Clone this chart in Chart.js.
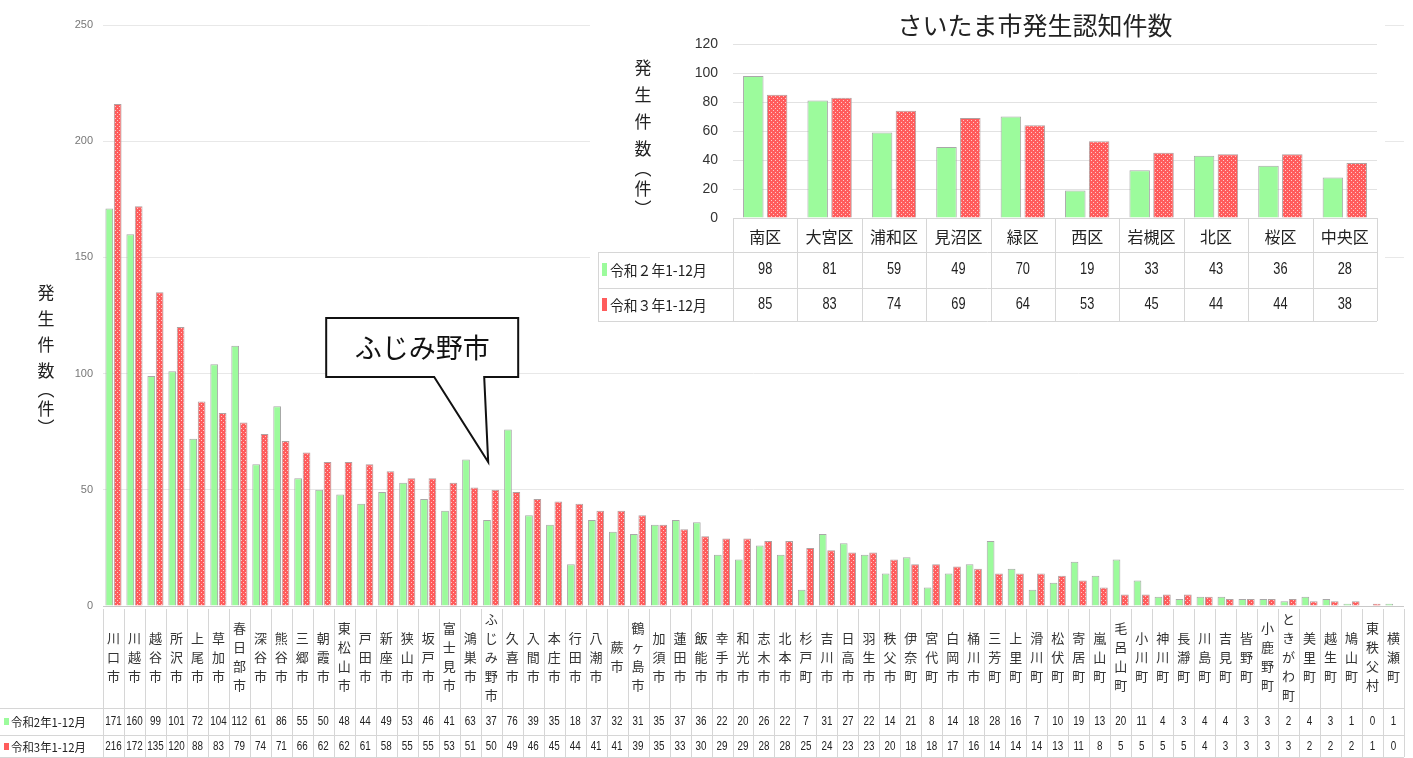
<!DOCTYPE html>
<html>
<head>
<meta charset="utf-8">
<script src="https://cdn.jsdelivr.net/npm/chart.js@4.4.0/dist/chart.umd.min.js"></script>
<style>
html, body { margin: 0; padding: 0; background: #fff; }
#wrap { position: relative; width: 1413px; height: 758px; overflow: hidden; }
#main { position: absolute; left: 0; top: 0; }
#inset { position: absolute; left: 590px; top: 0; background: #fff; }
</style>
</head>
<body>
<div id="wrap">
  <canvas id="main" width="1413" height="758"></canvas>
  <canvas id="inset" width="795" height="330"></canvas>
</div>
<script>
// 埼玉県 市町村別 発生認知件数
const cities = ['川口市','川越市','越谷市','所沢市','上尾市','草加市','春日部市','深谷市','熊谷市','三郷市',
  '朝霞市','東松山市','戸田市','新座市','狭山市','坂戸市','富士見市','鴻巣市','ふじみ野市','久喜市',
  '入間市','本庄市','行田市','八潮市','蕨市','鶴ヶ島市','加須市','蓮田市','飯能市','幸手市',
  '和光市','志木市','北本市','杉戸町','吉川市','日高市','羽生市','秩父市','伊奈町','宮代町',
  '白岡市','桶川市','三芳町','上里町','滑川町','松伏町','寄居町','嵐山町','毛呂山町','小川町',
  '神川町','長瀞町','川島町','吉見町','皆野町','小鹿野町','ときがわ町','美里町','越生町','鳩山町',
  '東秩父村','横瀬町'];
const cityR2 = [171,160,99,101,72,104,112,61,86,55, 50,48,44,49,53,46,41,63,37,76,
  39,35,18,37,32,31,35,37,36,22, 20,26,22,7,31,27,22,14,21,8,
  14,18,28,16,7,10,19,13,20,11, 4,3,4,4,3,3,2,4,3,1, 0,1];
const cityR3 = [216,172,135,120,88,83,79,74,71,66, 62,62,61,58,55,55,53,51,50,49,
  46,45,44,41,41,39,35,33,30,29, 29,28,28,25,24,23,23,20,18,18,
  17,16,14,14,14,13,11,8,5,5, 5,5,4,3,3,3,3,2,2,2, 1,0];

// さいたま市 区別
const wards = ['南区','大宮区','浦和区','見沼区','緑区','西区','岩槻区','北区','桜区','中央区'];
const wardR2 = [98,81,59,49,70,19,33,43,36,28];
const wardR3 = [85,83,74,69,64,53,45,44,44,38];

const mainLabels = ['令和2年1-12月', '令和3年1-12月'];
const insetLabels = ['令和２年1-12月', '令和３年1-12月'];
const yTitleChars = ['発','生','件','数','︵','件','︶'];
const calloutText = 'ふじみ野市';
const calloutIndex = cities.indexOf(calloutText);

const GREEN = '#9cfb9c';
const RED = '#ff5c5c';
const JP = '"Noto Sans CJK JP", "Noto Sans", sans-serif';
Chart.defaults.font.family = JP;

function dotted() {
  const c = document.createElement('canvas');
  c.width = 4; c.height = 4;
  const g = c.getContext('2d');
  g.fillStyle = RED; g.fillRect(0, 0, 4, 4);
  g.fillStyle = '#ffc8c8';
  g.fillRect(1, 0, 1, 1); g.fillRect(3, 2, 1, 1);
  return g.createPattern(c, 'repeat');
}

function stackedTitle(ctx, cx, top, size, step, parenStep) {
  ctx.save();
  ctx.fillStyle = '#222';
  ctx.font = size + 'px ' + JP;
  ctx.textAlign = 'center';
  ctx.textBaseline = 'middle';
  let py = top;
  yTitleChars.forEach((ch, i) => {
    ctx.fillText(ch, cx, py);
    const small = ch === '︵' || yTitleChars[i + 1] === '︶' || yTitleChars[i + 1] === '︵';
    py += small ? parenStep : step;
  });
  ctx.restore();
}

function narrowText(ctx, txt, px, py, sx) {
  ctx.save();
  ctx.translate(px, py);
  ctx.scale(sx, 1);
  ctx.fillText(txt, 0, 0);
  ctx.restore();
}

// ---------- main chart ----------
const mainExtras = {
  id: 'mainExtras',
  afterDraw(chart) {
    const { ctx, chartArea: area, scales: { x, y } } = chart;
    const n = cities.length;
    const step = x.width / n;
    const rowTop = x.bottom, rowMid = x.bottom + 27, rowEnd = chart.height - 1;
    ctx.save();
    ctx.strokeStyle = '#d6d6d6';
    ctx.lineWidth = 1;
    ctx.beginPath();
    for (let i = 0; i <= n; i++) {
      const px = Math.round(x.left + i * step) + 0.5;
      ctx.moveTo(px, area.bottom + 3);
      ctx.lineTo(px, rowEnd);
    }
    [rowTop, rowMid, rowEnd].forEach(py => {
      ctx.moveTo(0, py + 0.5);
      ctx.lineTo(x.right, py + 0.5);
    });
    ctx.stroke();

    ctx.fillStyle = '#222';
    ctx.textAlign = 'center';
    ctx.textBaseline = 'middle';
    ctx.font = '12px "Liberation Sans", sans-serif';
    [[cityR2, rowTop + 14], [cityR3, rowMid + 12]].forEach(([vals, py]) => {
      vals.forEach((v, i) => narrowText(ctx, String(v), x.getPixelForValue(i), py, 0.82));
    });

    // legend keys in table
    ctx.textAlign = 'left';
    ctx.font = '12px ' + JP;
    [[GREEN, rowTop + 14], [RED, rowMid + 12]].forEach(([col, py], k) => {
      ctx.fillStyle = col;
      ctx.fillRect(4, py - 4, 5, 7);
      ctx.fillStyle = '#222';
      narrowText(ctx, mainLabels[k], 11, py, 0.95);
    });
    ctx.restore();

    stackedTitle(ctx, 46, 293, 17, 26, 19);

    // callout for ふじみ野市
    const tipX = x.getPixelForValue(calloutIndex) - 3;
    const tipY = y.getPixelForValue(62);
    const bx = tipX - 162, by = tipY - 144, bw = 192, bh = 59;
    ctx.save();
    ctx.lineWidth = 2;
    ctx.strokeStyle = '#111';
    ctx.fillStyle = '#fff';
    ctx.beginPath();
    ctx.moveTo(bx, by);
    ctx.lineTo(bx + bw, by);
    ctx.lineTo(bx + bw, by + bh);
    ctx.lineTo(bx + 158, by + bh);
    ctx.lineTo(tipX, tipY);
    ctx.lineTo(bx + 108, by + bh);
    ctx.lineTo(bx, by + bh);
    ctx.closePath();
    ctx.fill();
    ctx.stroke();
    ctx.fillStyle = '#111';
    ctx.font = '27px ' + JP;
    ctx.textAlign = 'center';
    ctx.textBaseline = 'middle';
    ctx.fillText(calloutText, bx + bw / 2, by + bh / 2);
    ctx.restore();
  }
};

new Chart(document.getElementById('main').getContext('2d'), {
  type: 'bar',
  data: {
    labels: cities.map(c => Array.from(c)),
    datasets: [
      { label: mainLabels[0], data: cityR2, backgroundColor: GREEN,
        borderColor: '#a8a8a8', borderWidth: { top: 1, left: 1, right: 1, bottom: 0 } },
      { label: mainLabels[1], data: cityR3, backgroundColor: dotted(),
        borderColor: '#b0a0a0', borderWidth: { top: 1, left: 1, right: 1, bottom: 0 } }
    ]
  },
  options: {
    responsive: false,
    animation: false,
    layout: { padding: { top: 25, right: 3, bottom: 50, left: 0 } },
    categoryPercentage: 0.8,
    barPercentage: 0.92,
    plugins: { legend: { display: false }, tooltip: { enabled: false } },
    scales: {
      x: {
        grid: { display: false, drawTicks: false },
        border: { display: false },
        ticks: {
          autoSkip: false, maxRotation: 0, minRotation: 0,
          crossAlign: 'center', padding: 13, color: '#333',
          font: { size: 13, lineHeight: '19px' }
        },
        afterFit(s) { s.height = 102; }
      },
      y: {
        min: 0, max: 250,
        grid: { color: ctx => ctx.tick.value === 0 ? '#c8c8c8' : '#e8e8e8', drawTicks: false },
        border: { display: false },
        ticks: { stepSize: 50, padding: 10, color: '#777', font: { size: 11, family: '"Liberation Sans", sans-serif' } },
        afterFit(s) { s.width = 103; }
      }
    }
  },
  plugins: [mainExtras]
});

// ---------- inset chart ----------
const insetExtras = {
  id: 'insetExtras',
  afterDraw(chart) {
    const { ctx, chartArea: area, scales: { x } } = chart;
    const n = wards.length;
    const step = x.width / n;
    const r1 = x.top + 34, r2 = x.top + 70, r3 = x.bottom - 1;
    const leftEdge = 8;
    ctx.save();
    ctx.strokeStyle = '#d6d6d6';
    ctx.lineWidth = 1;
    ctx.beginPath();
    for (let i = 0; i <= n; i++) {
      const px = Math.round(x.left + i * step) + 0.5;
      ctx.moveTo(px, area.bottom);
      ctx.lineTo(px, r3);
    }
    ctx.moveTo(x.left, area.bottom + 0.5); ctx.lineTo(x.right, area.bottom + 0.5);
    [r1, r2, r3].forEach(py => { ctx.moveTo(leftEdge, py + 0.5); ctx.lineTo(x.right, py + 0.5); });
    ctx.moveTo(leftEdge + 0.5, r1); ctx.lineTo(leftEdge + 0.5, r3);
    ctx.stroke();

    ctx.fillStyle = '#222';
    ctx.textAlign = 'center';
    ctx.textBaseline = 'middle';
    ctx.font = '16px "Liberation Sans", sans-serif';
    [[wardR2, r1 + 18], [wardR3, r2 + 17]].forEach(([vals, py]) => {
      vals.forEach((v, i) => narrowText(ctx, String(v), x.getPixelForValue(i), py, 0.8));
    });

    ctx.textAlign = 'left';
    ctx.font = '15px ' + JP;
    [[GREEN, r1 + 18], [RED, r2 + 17]].forEach(([col, py], k) => {
      ctx.fillStyle = col;
      ctx.fillRect(12, py - 7, 5, 13);
      ctx.fillStyle = '#222';
      narrowText(ctx, insetLabels[k], 20, py, 0.92);
    });

    // title
    ctx.fillStyle = '#222';
    ctx.textAlign = 'center';
    ctx.font = '25px ' + JP;
    ctx.fillText('さいたま市発生認知件数', 445, 25);
    ctx.restore();

    stackedTitle(ctx, 53, 68, 17, 27, 20);
  }
};

new Chart(document.getElementById('inset').getContext('2d'), {
  type: 'bar',
  data: {
    labels: wards,
    datasets: [
      { label: insetLabels[0], data: wardR2, backgroundColor: GREEN,
        borderColor: '#a8a8a8', borderWidth: { top: 1, left: 1, right: 1, bottom: 0 } },
      { label: insetLabels[1], data: wardR3, backgroundColor: dotted(),
        borderColor: '#b0a0a0', borderWidth: { top: 1, left: 1, right: 1, bottom: 0 } }
    ]
  },
  options: {
    responsive: false,
    animation: false,
    layout: { padding: { top: 44, right: 8, bottom: 8, left: 0 } },
    categoryPercentage: 0.74,
    barPercentage: 0.86,
    plugins: { legend: { display: false }, tooltip: { enabled: false } },
    scales: {
      x: {
        grid: { display: false, drawTicks: false },
        border: { display: false },
        ticks: { padding: 9, color: '#222', font: { size: 16 } },
        afterFit(s) { s.height = 104; }
      },
      y: {
        min: 0, max: 120,
        grid: { color: '#e2e2e2', drawTicks: false },
        border: { display: false },
        ticks: { stepSize: 20, padding: 15, color: '#333', font: { size: 14, family: '"Liberation Sans", sans-serif' } },
        afterFit(s) { s.width = 143; }
      }
    }
  },
  plugins: [insetExtras]
});
</script>
</body>
</html>
